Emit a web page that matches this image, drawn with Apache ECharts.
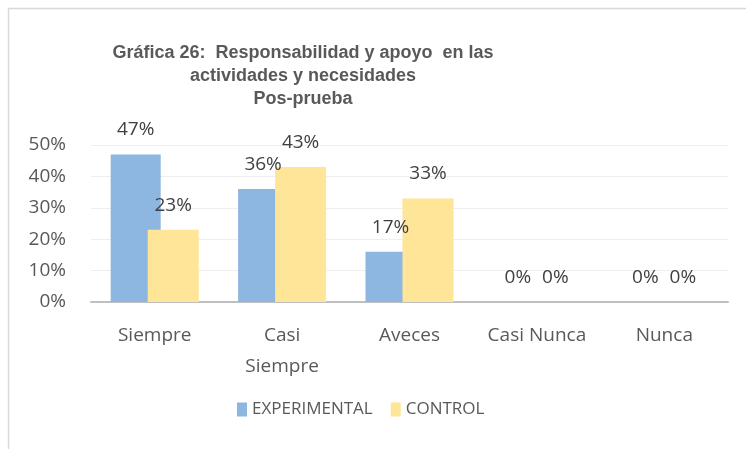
<!DOCTYPE html>
<html><head><meta charset="utf-8">
<script src="https://cdn.jsdelivr.net/npm/echarts@6/dist/echarts.min.js"></script>
<style>html,body{margin:0;padding:0;background:#fff}#c{width:746px;height:449px}</style>
</head><body><div id="c"></div>
<script>
const categories = ['Siempre', 'Casi\nSiempre', 'Aveces', 'Casi Nunca', 'Nunca'];
const experimental = [47, 36, 16, 0, 0];
const experimentalLabels = ['47%', '36%', '17%', '0%', '0%'];
const control = [23, 43, 33, 0, 0];
const controlLabels = ['23%', '43%', '33%', '0%', '0%'];
const yTicks = [0, 10, 20, 30, 40, 50];
const seriesNames = ['EXPERIMENTAL', 'CONTROL'];
const titleLines = ['Gráfica 26:  Responsabilidad y apoyo  en las', 'actividades y necesidades', 'Pos-prueba'];

const chart = echarts.init(document.getElementById('c'), null, {renderer: 'canvas'});
const font = '"Open Sans", sans-serif';
const labelStyle = (arr) => ({
  show: true, position: 'top', distance: 15, color: '#404040', fontFamily: font, fontSize: 19,
  formatter: p => arr[p.dataIndex]
});
chart.setOption({
  animation: false,
  graphic: [{
    type: 'polyline', shape: {points: [[8.5, 449], [8.5, 8.5], [746, 8.5]]},
    style: {stroke: '#d9d9d9', lineWidth: 1.5, fill: null}
  }],
  title: {
    text: titleLines.join('\n'), left: 298, top: 37, textAlign: 'center',
    textStyle: {fontFamily: '"Liberation Sans", Arial, sans-serif', fontWeight: 'bold', fontSize: 18, color: '#595959', lineHeight: 23}
  },
  legend: {
    data: seriesNames, bottom: 26, left: 232, itemWidth: 10, itemHeight: 14, itemGap: 18,
    icon: 'rect',
    textStyle: {fontFamily: font, fontSize: 17, color: '#595959'}
  },
  grid: {left: 91, right: 18, top: 145, bottom: 147, containLabel: false},
  xAxis: {
    type: 'category', data: categories,
    axisLine: {lineStyle: {color: '#bfbfbf', width: 2}},
    axisTick: {show: false},
    axisLabel: {interval: 0, fontFamily: font, fontSize: 19, color: '#595959', margin: 18, lineHeight: 31}
  },
  yAxis: {
    type: 'value', min: yTicks[0], max: yTicks[yTicks.length - 1], interval: yTicks[1] - yTicks[0],
    axisLine: {show: false}, axisTick: {show: false},
    splitLine: {lineStyle: {color: '#eeeeee', width: 1}},
    axisLabel: {fontFamily: font, fontSize: 19, color: '#595959', margin: 25, formatter: v => v + '%'}
  },
  series: [
    {name: seriesNames[0], type: 'bar', data: experimental, barWidth: 50, barGap: '-26%',
     itemStyle: {color: '#8db6e0'}, label: labelStyle(experimentalLabels)},
    {name: seriesNames[1], type: 'bar', data: control, barWidth: 51,
     itemStyle: {color: '#ffe597'}, label: labelStyle(controlLabels)}
  ]
});
</script></body></html>
